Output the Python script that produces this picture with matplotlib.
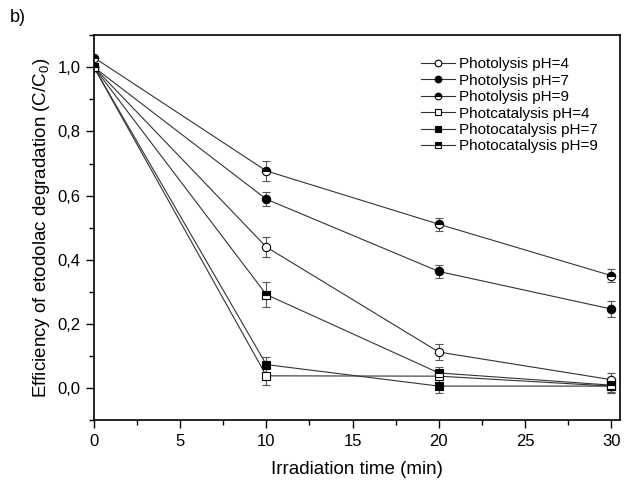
import numpy as np
import matplotlib
matplotlib.use("Agg")
import matplotlib.pyplot as plt
from matplotlib.ticker import MultipleLocator, FuncFormatter

plt.rcParams['font.family'] = ['Liberation Sans', 'DejaVu Sans']
plt.rcParams['mathtext.fontset'] = 'custom'
plt.rcParams['mathtext.rm'] = 'Liberation Sans'
plt.rcParams['mathtext.it'] = 'Liberation Sans'

# data
time = [0, 10, 20, 30]
labels = ["Photolysis pH=4", "Photolysis pH=7", "Photolysis pH=9",
          "Photcatalysis pH=4", "Photocatalysis pH=7", "Photocatalysis pH=9"]
photo_ph4 = [1.00, 0.44, 0.113, 0.027]
photo_ph7 = [1.00, 0.589, 0.364, 0.247]
photo_ph9 = [1.03, 0.677, 0.511, 0.351]
cat_ph4 = [1.00, 0.039, 0.038, 0.007]
cat_ph7 = [1.00, 0.074, 0.007, 0.007]
cat_ph9 = [1.00, 0.292, 0.048, 0.010]
err_ph4 = [0.0, 0.03, 0.025, 0.02]
err_ph7 = [0.0, 0.022, 0.02, 0.025]
err_ph9 = [0.0, 0.03, 0.02, 0.02]
err_c4 = [0.0, 0.03, 0.02, 0.02]
err_c7 = [0.0, 0.025, 0.02, 0.02]
err_c9 = [0.0, 0.04, 0.02, 0.02]

series = [photo_ph4, photo_ph7, photo_ph9, cat_ph4, cat_ph7, cat_ph9]
errors = [err_ph4, err_ph7, err_ph9, err_c4, err_c7, err_c9]
markers = ['o', 'o', 'o', 's', 's', 's']
fills = ['none', 'full', 'top', 'none', 'full', 'top']

fig = plt.figure(figsize=(6.3, 4.8), dpi=100)
ax = fig.add_axes([0.149, 0.124, 0.835, 0.803])

handles = []
for y, e, m, f, lab in zip(series, errors, markers, fills, labels):
    if f == 'none':
        kw = dict(markerfacecolor='white')
    elif f == 'full':
        kw = dict(markerfacecolor='black')
    else:
        kw = dict(fillstyle='top', markerfacecolor='black', markerfacecoloralt='white')
    c = ax.errorbar(time, y, yerr=e, color='#333333', lw=0.8, marker=m, ms=6,
                    markeredgecolor='black', markeredgewidth=0.8,
                    ecolor='#555555', elinewidth=0.8, capsize=3, capthick=0.8,
                    label=lab, **kw)
    handles.append(c[0])

ax.set_xlim(0, 30.5)
ax.set_ylim(-0.1, 1.1)
ax.xaxis.set_major_locator(MultipleLocator(5))
ax.xaxis.set_minor_locator(MultipleLocator(2.5))
ax.yaxis.set_major_locator(MultipleLocator(0.2))
ax.yaxis.set_minor_locator(MultipleLocator(0.1))
ax.yaxis.set_major_formatter(FuncFormatter(lambda v, p: f"{v:.1f}".replace('.', ',').replace('-0,0', '0,0')))
ax.tick_params(which='both', direction='out', top=False, right=False, labelsize=12, width=1)
ax.tick_params(which='major', length=6)
ax.tick_params(which='minor', length=3.5)
for s in ax.spines.values():
    s.set_linewidth(1.2)

ax.set_xlabel("Irradiation time (min)", fontsize=13.5, labelpad=9)
ax.set_ylabel("Efficiency of etodolac degradation (C/C$_0$)", fontsize=13.5)

leg = ax.legend(handles=handles, labels=labels, loc='upper right', bbox_to_anchor=(0.985, 0.978),
                frameon=False, fontsize=11, markerscale=0.8,
                handlelength=2.2, handletextpad=0.3, labelspacing=0.16)

fig.text(0.015, 0.955, "b)", fontsize=13)

fig.savefig("out.png", dpi=100)
